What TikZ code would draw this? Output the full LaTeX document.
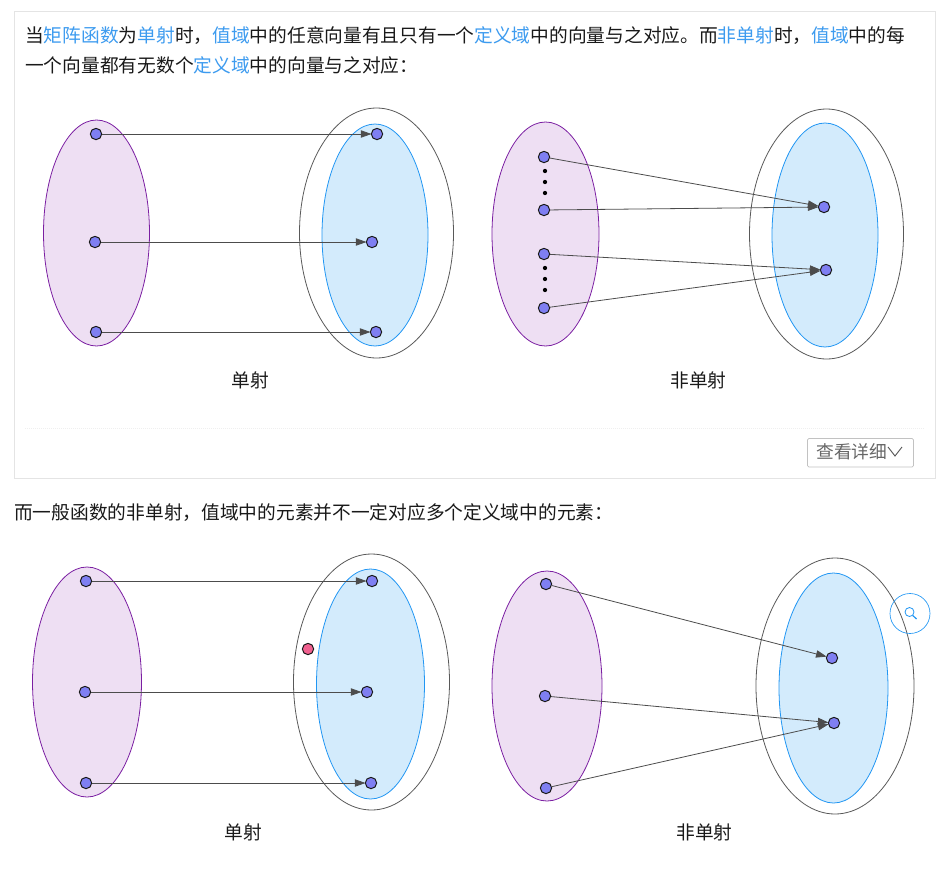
\documentclass[tikz,border=0pt]{standalone}
\usepackage{fontspec}
\setmainfont{Noto Sans CJK SC}
\usetikzlibrary{arrows.meta}
\definecolor{dom}{HTML}{EEDFF3}
\definecolor{domline}{HTML}{7B1FA2}
\definecolor{rng}{HTML}{D3EBFC}
\definecolor{rngline}{HTML}{2196F3}
\definecolor{word}{HTML}{3D9BEF}
\definecolor{dotblue}{HTML}{7F7FF2}
\definecolor{dotpink}{HTML}{F0608F}
\definecolor{panel}{HTML}{E4E4E4}
\newcommand{\hl}[1]{\textcolor{word}{#1}}
\tikzstyle{txt}=[inner sep = 0, font = \fontsize{14.04pt}{14pt}\selectfont, text = black!90]
\tikzstyle{pt}=[circle, draw = black!90, fill = dotblue, inner sep = 0, minimum size = 8.5pt, line width = .75pt]
\tikzstyle{pk}=[pt, fill = dotpink]
\tikzstyle{dt}=[circle, fill = black, inner sep = 0, minimum size = 3.2pt]
\tikzstyle{ar}=[draw = black!70, line width = .6pt, shorten > = -.5pt, -{Triangle[length = 8pt, width = 5.5pt]}]
\tikzstyle{eldom}=[draw = domline, fill = dom, line width = .6pt]
\tikzstyle{elrng}=[draw = rngline, fill = rng, line width = .6pt]
\tikzstyle{elcod}=[draw = black!65, line width = .6pt]

\begin{document}
\begin{tikzpicture}[x=.75pt, y=-.75pt]
  \useasboundingbox (0,0) rectangle (950,868);
  % panel
  \draw[panel, line width = .6pt] (14.5,11.5) rectangle (935,478);
  \draw[panel!60, line width = .5pt, densely dotted] (25,428) -- (924,428);
  \node[txt, anchor = base west] (line1) at (25,42) {当\hl{矩阵函数}为\hl{单射}时，\hl{值域}中的任意向量有且只有一个\hl{定义域}中的向量与之对应。而\hl{非单射}时，\hl{值域}中的每};
  \node[txt, anchor = base west] (line2) at (25,72) {一个向量都有无数个\hl{定义域}中的向量与之对应：};
  \node[txt, anchor = base west] (line3) at (14,519) {而一般函数的非单射，值域中的元素并不一定对应多个定义域中的元素：};
  % button
  \draw[panel!85!black, rounded corners = 1pt, line width = .6pt] (807.5,438.5) rectangle (913.5,467);
  \node[txt, text = black!60, font = \fontsize{13.3pt}{14pt}\selectfont, anchor = base west] (more) at (816,458) {查看详细};
  \draw[black!65, line width = .7pt] (888,447) -- (895,456) -- (902,447);

  % top left
  \draw[eldom] (96.5,233) ellipse (53 and 113);
  \draw[elcod] (376.5,233) ellipse (77 and 125);
  \draw[elrng] (375,235) ellipse (53 and 111);
  \node[pt] (a1) at (96,134) {};
  \node[pt] (a2) at (95,242) {};
  \node[pt] (a3) at (96,332) {};
  \node[pt] (b1) at (377,134) {};
  \node[pt] (b2) at (372,242) {};
  \node[pt] (b3) at (376,332) {};
  \draw[ar] (a1) -- (b1);
  \draw[ar] (a2) -- (b2);
  \draw[ar] (a3) -- (b3);
  \node[txt] (la) at (250,380) {单射};

  % top right
  \draw[eldom] (545.5,234) ellipse (53.5 and 112);
  \draw[elcod] (826.5,234) ellipse (77 and 125);
  \draw[elrng] (825,235) ellipse (53 and 112);
  \node[pt] (c1) at (544,157) {};
  \node[pt] (c2) at (544,210) {};
  \node[pt] (c3) at (544,254) {};
  \node[pt] (c4) at (544,308) {};
  \node[dt] (e1) at (545,171) {};
  \node[dt] (e2) at (545,182) {};
  \node[dt] (e3) at (545,193) {};
  \node[dt] (e4) at (545,268) {};
  \node[dt] (e5) at (545,279) {};
  \node[dt] (e6) at (545,290) {};
  \node[pt] (d1) at (824,207) {};
  \node[pt] (d2) at (826,270) {};
  \draw[ar] (c1) -- (d1);
  \draw[ar] (c2) -- (d1);
  \draw[ar] (c3) -- (d2);
  \draw[ar] (c4) -- (d2);
  \node[txt] (lb) at (698.5,380) {非单射};

  % bottom left
  \draw[eldom] (87,682) ellipse (54.5 and 115);
  \draw[elcod] (371.5,682) ellipse (78 and 128);
  \draw[elrng] (370.5,684) ellipse (54 and 115);
  \node[pt] (f1) at (86,581) {};
  \node[pt] (f2) at (85,692) {};
  \node[pt] (f3) at (86,783) {};
  \node[pt] (g1) at (372,581) {};
  \node[pt] (g2) at (367,692) {};
  \node[pt] (g3) at (371,783) {};
  \node[pk] (g4) at (308,649) {};
  \draw[ar] (f1) -- (g1);
  \draw[ar] (f2) -- (g2);
  \draw[ar] (f3) -- (g3);
  \node[txt] (lc) at (243,832) {单射};

  % bottom right
  \draw[eldom] (547,686) ellipse (55 and 115);
  \draw[elcod] (835,686) ellipse (79 and 128);
  \draw[elrng] (833.5,688) ellipse (54.5 and 115);
  \node[pt] (h1) at (546,584) {};
  \node[pt] (h2) at (545,696) {};
  \node[pt] (h3) at (546,788) {};
  \node[pt] (k1) at (832,658) {};
  \node[pt] (k2) at (834,723) {};
  \draw[ar] (h1) -- (k1);
  \draw[ar] (h2) -- (k2);
  \draw[ar] (h3) -- (k2);
  \node[txt] (ld) at (704.5,832) {非单射};

  % search badge
  \node[circle, draw = rngline, inner sep = 0, minimum size = 30pt, line width = .5pt] (lens) at (910,613.5) {};
  \draw[rngline, line width = .6pt] (909.5,612) circle (4.5);
  \draw[rngline, line width = .9pt] (912.8,615.5) -- (916.5,619);
\end{tikzpicture}
\end{document}
